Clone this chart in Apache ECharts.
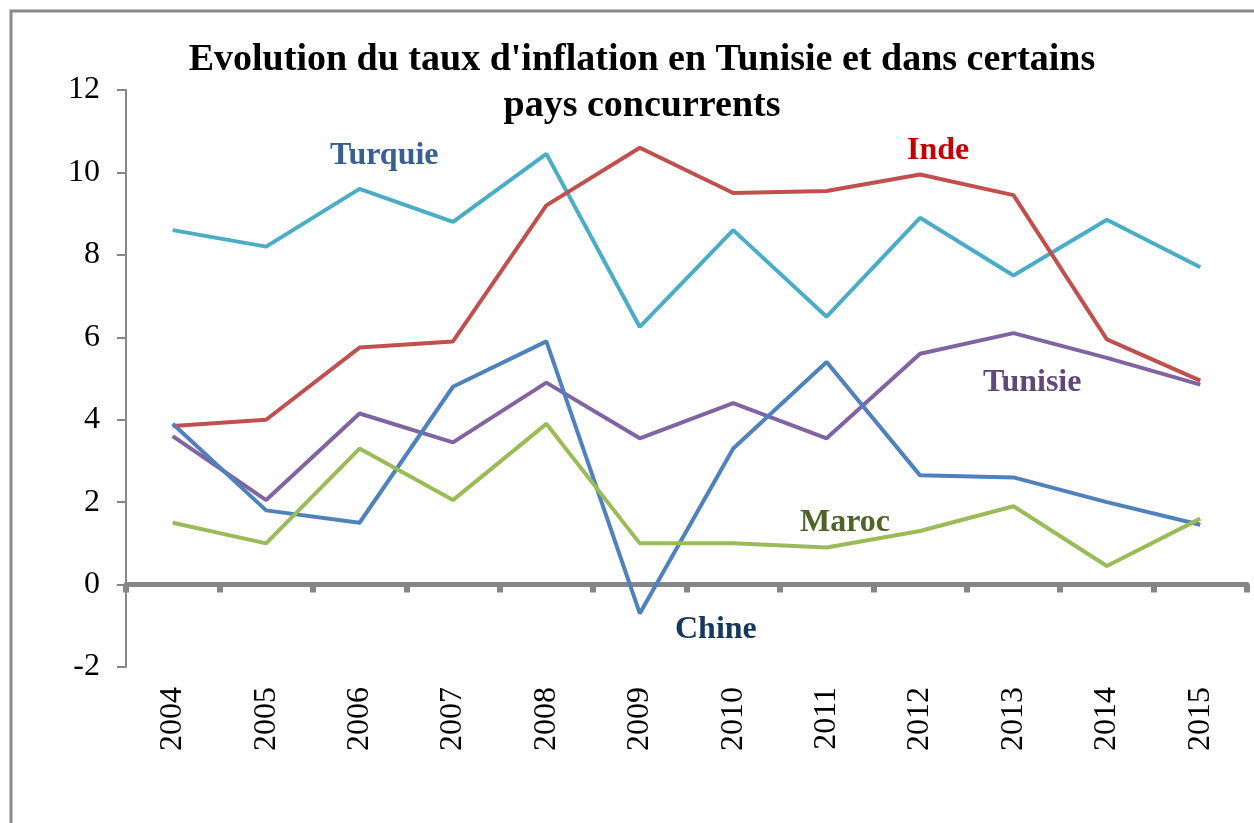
<!DOCTYPE html>
<html>
<head>
<meta charset="utf-8" />
<script src="https://cdn.jsdelivr.net/npm/echarts@6/dist/echarts.min.js"></script>
<style>
  html, body { margin: 0; padding: 0; background: #fff; }
  #chart { width: 1254px; height: 823px; }
</style>
</head>
<body>
<div id="chart"></div>
<script>
const years = ['2004', '2005', '2006', '2007', '2008', '2009', '2010', '2011', '2012', '2013', '2014', '2015'];

const turquie = [8.6, 8.2, 9.6, 8.8, 10.45, 6.25, 8.6, 6.5, 8.9, 7.5, 8.85, 7.7];
const inde = [3.85, 4.0, 5.75, 5.9, 9.2, 10.6, 9.5, 9.55, 9.95, 9.45, 5.95, 4.95];
const tunisie = [3.6, 2.05, 4.15, 3.45, 4.9, 3.55, 4.4, 3.55, 5.6, 6.1, 5.5, 4.85];
const chine = [3.9, 1.8, 1.5, 4.8, 5.9, -0.7, 3.3, 5.4, 2.65, 2.6, 2.0, 1.45];
const maroc = [1.5, 1.0, 3.3, 2.05, 3.9, 1.0, 1.0, 0.9, 1.3, 1.9, 0.45, 1.6];

const serif = '"Liberation Serif", "Times New Roman", serif';

const chart = echarts.init(document.getElementById('chart'));

const line = (name, data, color) => ({
  name,
  type: 'line',
  data,
  xAxisIndex: 0,
  symbol: 'none',
  lineStyle: { width: 4, color },
  itemStyle: { color },
  z: 3
});

// series name tags, placed beside their lines
const label = (text, x, y, color) => ({
  type: 'text',
  x,
  y,
  style: { text, fill: color, font: 'bold 32px ' + serif, verticalAlign: 'middle' },
  z: 10
});

const option = {
  animation: false,
  backgroundColor: '#fff',
  title: {
    text: "Evolution du taux d'inflation en Tunisie et dans certains\npays concurrents",
    left: 637,
    top: 32,
    textAlign: 'center',
    textStyle: { fontFamily: serif, fontWeight: 'bold', fontSize: 38, lineHeight: 46, color: '#000' }
  },
  grid: { left: 126, right: 7, top: 90, bottom: 156 },
  xAxis: [
    {
      type: 'category',
      data: years,
      boundaryGap: true,
      axisLine: { onZero: true, lineStyle: { color: '#868686', width: 5 } },
      axisTick: { show: true, inside: false, length: 8, lineStyle: { color: '#868686', width: 6 } },
      axisLabel: { show: false }
    },
    {
      type: 'category',
      data: years,
      position: 'bottom',
      axisLine: { show: false, onZero: false },
      axisTick: { show: false },
      axisLabel: { rotate: 90, margin: 20, fontFamily: serif, fontSize: 32, color: '#000' }
    }
  ],
  yAxis: {
    type: 'value',
    min: -2,
    max: 12,
    interval: 2,
    splitLine: { show: false },
    axisLine: { show: true, lineStyle: { color: '#868686', width: 2 } },
    axisTick: { show: true, length: 9, lineStyle: { color: '#868686', width: 2 } },
    axisLabel: { margin: 26, fontFamily: serif, fontSize: 32, color: '#000' }
  },
  series: [
    line('Turquie', turquie, '#4BACC6'),
    line('Inde', inde, '#C0504D'),
    line('Tunisie', tunisie, '#8064A2'),
    line('Chine', chine, '#4F81BD'),
    line('Maroc', maroc, '#9BBB59')
  ],
  graphic: [
    {
      type: 'rect',
      shape: { x: 11, y: 11, width: 1260, height: 840 },
      style: { fill: 'none', stroke: '#898989', lineWidth: 3 },
      silent: true
    },
    label('Turquie', 330, 156, '#376092'),
    label('Inde', 907, 151, '#C00000'),
    label('Tunisie', 983, 383, '#5F497A'),
    label('Maroc', 800, 523, '#4F6228'),
    label('Chine', 675, 630, '#17375E')
  ]
};

chart.setOption(option);
</script>
</body>
</html>
